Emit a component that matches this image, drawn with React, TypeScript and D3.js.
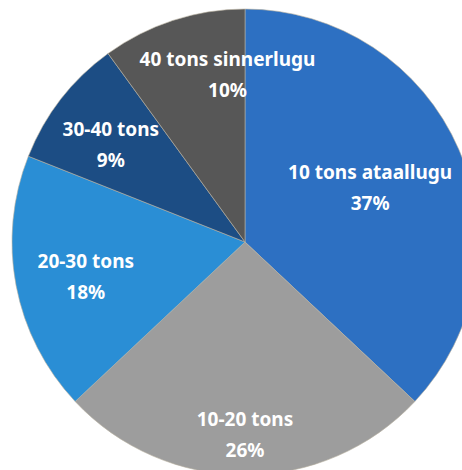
import * as d3 from "d3";

const categories = ["10 tons ataallugu", "10-20 tons", "20-30 tons", "30-40 tons", "40 tons sinnerlugu"];
const shares = [37, 26, 18, 9, 10];
const colors = ["#2d70c2", "#9d9d9d", "#2a8ed5", "#1c4d84", "#575757"];

// label placement: fraction of radius and angle nudge (degrees), like Excel's best-fit
const labelLayout: [number, number][] = [
  [0.585, 0],
  [0.83, 0],
  [0.7, -1.7],
  [0.71, -2],
  [0.72, 12],
];

const width = 462;
const height = 470;
const cx = 245;
const cy = 242;
const radius = 233;

export default function App() {
  const pie = d3.pie<number>().sort(null).value((d) => d);
  const arcs = pie(shares);
  const arc = d3.arc<d3.PieArcDatum<number>>().innerRadius(0).outerRadius(radius);

  return (
    <svg
      width={width}
      height={height}
      style={{ position: "absolute", left: 0, top: 0, background: "#fff" }}
    >
      <g transform={`translate(${cx},${cy})`}>
        {arcs.map((a, i) => (
          <path key={i} d={arc(a) ?? undefined} fill={colors[i]} stroke="#b8b0a0" strokeOpacity={0.6} strokeWidth={1} />
        ))}
        {arcs.map((a, i) => {
          const [frac, nudge] = labelLayout[i];
          const mid = (a.startAngle + a.endAngle) / 2 + (nudge * Math.PI) / 180;
          const r = radius * frac;
          const x = Math.sin(mid) * r;
          const y = -Math.cos(mid) * r;
          return (
            <text
              key={i}
              x={x}
              y={y}
              textAnchor="middle"
              fill="#fff"
              fontFamily="'Noto Sans', 'Open Sans', sans-serif"
              fontWeight="bold"
              fontSize={19}
            >
              <tspan x={x} dy="-0.47em">{categories[i]}</tspan>
              <tspan x={x} dy="1.63em">{shares[i]}%</tspan>
            </text>
          );
        })}
      </g>
    </svg>
  );
}
